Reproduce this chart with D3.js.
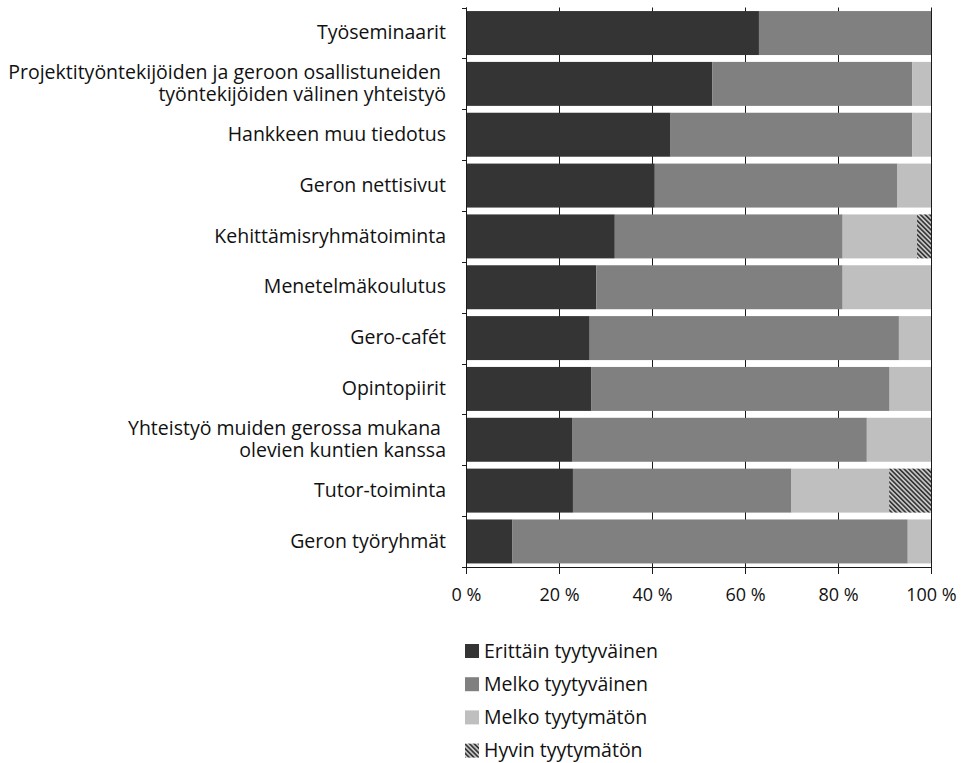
<!DOCTYPE html>
<html><head><meta charset="utf-8">
<script src="https://cdn.jsdelivr.net/npm/d3@7"></script>
<style>
body{margin:0;background:#fff;}
svg text{font-family:"Open Sans",sans-serif;fill:#111;white-space:pre;}
</style></head>
<body><svg id="c" width="967" height="763"></svg>
<script>
const categories = [
  ["Työseminaarit"],
  ["Projektityöntekijöiden ja geroon osallistuneiden ", "työntekijöiden välinen yhteistyö"],
  ["Hankkeen muu tiedotus"],
  ["Geron nettisivut"],
  ["Kehittämisryhmätoiminta"],
  ["Menetelmäkoulutus"],
  ["Gero-cafét"],
  ["Opintopiirit"],
  ["Yhteistyö muiden gerossa mukana ", "olevien kuntien kanssa"],
  ["Tutor-toiminta"],
  ["Geron työryhmät"]
];
const seriesNames = ["Erittäin tyytyväinen", "Melko tyytyväinen", "Melko tyytymätön", "Hyvin tyytymätön"];
const erittainTyytyvainen = [63, 53, 44, 40.6, 32, 28, 26.6, 26.9, 22.8, 23, 10];
const melkoTyytyvainen    = [37, 43, 52, 52.2, 49, 53, 66.5, 64.2, 63.4, 47, 85];
const melkoTyytymaton     = [0, 4, 4, 7.2, 16, 19, 6.9, 8.9, 13.8, 21, 5];
const hyvinTyytymaton     = [0, 0, 0, 0, 3, 0, 0, 0, 0, 9, 0];
const xTicks = [0, 20, 40, 60, 80, 100];
const xTickLabels = ["0 %", "20 %", "40 %", "60 %", "80 %", "100 %"];

const svg = d3.select("#c");
const defs = svg.append("defs");
const pat = defs.append("pattern").attr("id","hatch").attr("patternUnits","userSpaceOnUse")
  .attr("width",3.3).attr("height",3.3).attr("patternTransform","rotate(-45)");
pat.append("rect").attr("width",3.3).attr("height",3.3).attr("fill","#c4c4c4");
pat.append("rect").attr("width",1.6).attr("height",3.3).attr("fill","#333433");

const colors = ["#333433", "#808080", "#bfbfbf", "url(#hatch)"];
const keys = categories.map((c,i)=>i);
const x = d3.scaleLinear().domain([0,100]).range([466,931]);
const y = d3.scaleBand().domain(keys).range([7.5,567]).paddingInner(0.135).paddingOuter(0.07);

const rows = keys.map(i=>({i, vals:[erittainTyytyvainen[i], melkoTyytyvainen[i], melkoTyytymaton[i], hyvinTyytymaton[i]]}));
const stack = d3.stack().keys([0,1,2,3]).value((d,k)=>d.vals[k]);
const stacked = stack(rows);

// gridlines
svg.append("g").selectAll("line").data(xTicks).join("line")
  .attr("x1",d=>x(d)+0.5).attr("x2",d=>x(d)+0.5)
  .attr("y1",y.range()[0]).attr("y2",y.range()[1])
  .attr("stroke","#1a1a1a").attr("stroke-width",1);

// bars
svg.append("g").selectAll("g").data(stacked).join("g")
  .attr("fill",(d,k)=>colors[k])
  .selectAll("rect").data(d=>d).join("rect")
  .attr("x",d=>x(d[0])).attr("width",d=>Math.max(0,x(d[1])-x(d[0])))
  .attr("y",d=>y(d.data.i)).attr("height",y.bandwidth());

// y axis
const ax = svg.append("g");
ax.append("line").attr("x1",x(0)+0.5).attr("x2",x(0)+0.5).attr("y1",y.range()[0]).attr("y2",y.range()[1]).attr("stroke","#1a1a1a");
const bounds = keys.map(i=>y(i)-y.step()*y.paddingInner()/2).concat([y.range()[1]]);
bounds[0]=y.range()[0];
ax.selectAll("line.t").data(bounds).join("line").attr("class","t")
  .attr("x1",x(0)-4).attr("x2",x(0)+0.5).attr("y1",d=>Math.round(d)+0.5).attr("y2",d=>Math.round(d)+0.5).attr("stroke","#1a1a1a");

// x axis
const xa = svg.append("g").attr("transform",`translate(0,${y.range()[1]})`)
  .call(d3.axisBottom(x).tickValues(xTicks).tickFormat((d,i)=>xTickLabels[i]).tickSize(7).tickPadding(14));
xa.select(".domain").attr("stroke","#1a1a1a").attr("d",`M${x(0)},0.5H${x(100)+1}`);
xa.selectAll(".tick line").attr("stroke","#1a1a1a");
xa.selectAll(".tick text").style("font-size","18px").attr("fill","#111").attr("font-family",null);

// category labels
const lh = 22;
const lab = svg.append("g");
categories.forEach((lines,i)=>{
  const cy = y(i)+y.bandwidth()/2;
  const t = lab.append("text").attr("text-anchor","end").style("font-size","19.5px");
  lines.forEach((ln,j)=>{
    t.append("tspan").attr("x",446).attr("y", cy + (j-(lines.length-1)/2)*lh).attr("dy","0.32em").text(ln);
  });
});

// legend
const lg = svg.append("g");
seriesNames.forEach((n,k)=>{
  const ly = 651 + k*33.2;
  lg.append("rect").attr("x",465).attr("y",ly-7).attr("width",14).attr("height",14).attr("fill",colors[k]);
  lg.append("text").attr("x",484).attr("y",ly).attr("dy","0.34em").style("font-size","19.5px").text(n);
});
</script></body></html>
